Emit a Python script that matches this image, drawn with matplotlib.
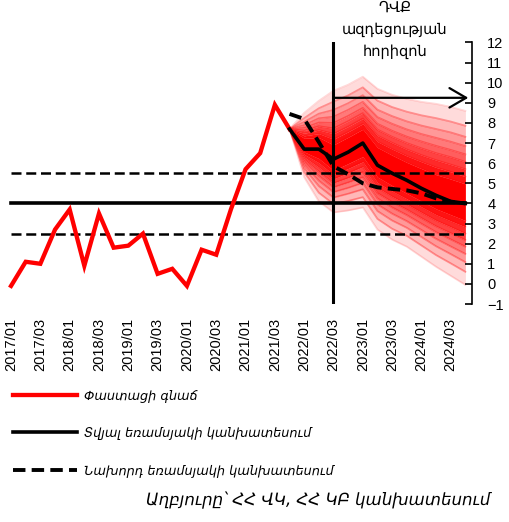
import matplotlib.pyplot as plt
import numpy as np

# quarters 2017Q1 .. 2024Q4
quarters = np.arange(32)
tick_pos = np.arange(0, 32, 2)
tick_labels = ['2017/01', '2017/03', '2018/01', '2018/03', '2019/01', '2019/03',
               '2020/01', '2020/03', '2021/01', '2021/03', '2022/01', '2022/03',
               '2023/01', '2023/03', '2024/01', '2024/03']

# actual inflation, 2017Q1 .. 2021Q4
actual = [-0.1, 1.1, 1.0, 2.7, 3.7, 0.9, 3.5, 1.8, 1.9, 2.5,
          0.5, 0.75, -0.1, 1.7, 1.45, 3.7, 5.7, 6.5, 8.9, 7.7]

# forecasts, 2021Q4 .. 2024Q4
fc_x = np.arange(19, 32)
forecast_now = [7.7, 6.7, 6.7, 6.2, 6.55, 7.0, 5.9, 5.5, 5.15, 4.75, 4.4, 4.1, 4.0]
forecast_prev = [8.45, 8.2, 7.05, 5.85, 5.45, 5.0, 4.8, 4.72, 4.65, 4.5, 4.25, 4.08, 4.0]

target = 4.0
target_lo = 2.5
target_hi = 5.5

# fan chart band edges (outer -> inner)
fan_upper = [
    [7.7, 8.5, 9.1, 9.6, 9.9, 10.3, 9.7, 9.4, 9.2, 9.05, 8.95, 8.8, 8.6],
    [7.7, 8.24, 8.73, 9.06, 9.37, 9.77, 9.11, 8.79, 8.56, 8.38, 8.24, 8.07, 7.86],
    [7.7, 8.05, 8.46, 8.65, 8.98, 9.38, 8.66, 8.34, 8.08, 7.87, 7.7, 7.53, 7.31],
    [7.7, 7.89, 8.23, 8.31, 8.65, 9.05, 8.29, 7.96, 7.68, 7.45, 7.26, 7.07, 6.85],
    [7.7, 7.75, 8.02, 8.0, 8.35, 8.75, 7.96, 7.61, 7.32, 7.08, 6.86, 6.66, 6.44],
    [7.7, 7.62, 7.84, 7.73, 8.09, 8.49, 7.67, 7.31, 7.0, 6.74, 6.5, 6.3, 6.07],
    [7.7, 7.49, 7.65, 7.46, 7.82, 8.22, 7.37, 7.01, 6.68, 6.4, 6.15, 5.93, 5.7],
    [7.7, 7.36, 7.47, 7.19, 7.56, 7.96, 7.07, 6.7, 6.36, 6.07, 5.79, 5.57, 5.33],
    [7.7, 7.24, 7.28, 6.91, 7.29, 7.69, 6.78, 6.4, 6.04, 5.73, 5.43, 5.21, 4.97],
]
fan_lower = [
    [7.7, 5.3, 4.1, 3.55, 3.65, 3.8, 2.7, 2.2, 1.85, 1.35, 0.85, 0.4, -0.05],
    [7.7, 5.56, 4.53, 3.97, 4.12, 4.31, 3.23, 2.74, 2.39, 1.91, 1.43, 1.02, 0.6],
    [7.7, 5.75, 4.86, 4.29, 4.48, 4.7, 3.62, 3.15, 2.79, 2.33, 1.87, 1.48, 1.08],
    [7.7, 5.91, 5.13, 4.56, 4.77, 5.02, 3.95, 3.49, 3.12, 2.68, 2.24, 1.86, 1.49],
    [7.7, 6.05, 5.37, 4.8, 5.04, 5.3, 4.25, 3.8, 3.42, 2.99, 2.57, 2.21, 1.85],
    [7.7, 6.18, 5.58, 5.01, 5.27, 5.56, 4.51, 4.07, 3.69, 3.27, 2.86, 2.52, 2.18],
    [7.7, 6.31, 5.8, 5.22, 5.51, 5.82, 4.78, 4.34, 3.96, 3.55, 3.15, 2.83, 2.5],
    [7.7, 6.44, 6.02, 5.43, 5.74, 6.07, 5.04, 4.61, 4.23, 3.83, 3.44, 3.13, 2.83],
    [7.7, 6.56, 6.23, 5.64, 5.98, 6.33, 5.31, 4.89, 4.5, 4.11, 3.73, 3.44, 3.15],
]

policy_q = 22  # 2022/03
arrow_y = 9.25

arm = 'DejaVu Sans'
num = 'Liberation Sans'

fig = plt.figure(figsize=(5.09, 5.22), dpi=100)
ax = fig.add_axes([0.0073, 0.4176, 0.92, 0.501])

# fan
shades = [0.14, 0.28, 0.40, 0.52, 0.63, 0.74, 0.84, 0.93]
for k, t in enumerate(shades):
    col = (1, 1 - t, 1 - t)
    ax.fill_between(fc_x, fan_upper[k + 1], fan_upper[k], color=col, lw=0, zorder=1)
    ax.fill_between(fc_x, fan_lower[k], fan_lower[k + 1], color=col, lw=0, zorder=1)
ax.fill_between(fc_x, fan_lower[-1], fan_upper[-1], color='#ff0000', lw=0, zorder=1)
for k in range(len(fan_upper)):
    a = 0.15 if k == 0 else 0.35
    ax.plot(fc_x, fan_upper[k], color='red', alpha=a, lw=1.3, zorder=1.5)
    ax.plot(fc_x, fan_lower[k], color='red', alpha=a, lw=1.3, zorder=1.5)

# target band
ax.plot([quarters[0], quarters[-1]], [target, target], color='black', lw=2.6, zorder=2)
for v in (target_lo, target_hi):
    ax.plot([quarters[0], quarters[-1]], [v, v], color='black', lw=1.8,
            linestyle=(0, (4, 1.9)), zorder=2)

ax.axvline(policy_q, color='black', lw=2.2, zorder=3)
ax.annotate('', xy=(31.2, arrow_y), xytext=(policy_q, arrow_y),
            arrowprops=dict(arrowstyle='->,head_length=1.2,head_width=0.7',
                            color='black', lw=1.6, shrinkA=0, shrinkB=0),
            zorder=3)

l1, = ax.plot(quarters[:len(actual)], actual, color='#ff0000', lw=3.1, zorder=4,
              solid_joinstyle='miter', label='Փաստացի գնաճ')
l2, = ax.plot(fc_x, forecast_now, color='black', lw=2.6, zorder=5,
              label='Տվյալ եռամսյակի կանխատեսում')
l3, = ax.plot(fc_x, forecast_prev, color='black', lw=2.8, zorder=5,
              linestyle=(0, (3.2, 1.6)), label='Նախորդ եռամսյակի կանխատեսում')

ax.set_xlim(-0.5, 31.45)
ax.set_ylim(-1, 12)
ax.set_yticks(np.arange(-1, 13))
ax.yaxis.tick_right()
ax.tick_params(axis='y', direction='in', length=5, width=1.2, pad=11, labelsize=10.5)
ax.set_xticks(tick_pos)
ax.set_xticklabels(tick_labels, rotation=90, fontsize=10.5, family=num)
ax.tick_params(axis='x', length=0, pad=10)
for lab in ax.get_yticklabels():
    lab.set_family(num)
for s in ('left', 'top', 'bottom'):
    ax.spines[s].set_visible(False)
ax.spines['right'].set_linewidth(1.2)

ax.text(26.2, 12.65, 'ԴՎՔ\nազդեցության\nհորիզոն', ha='center', va='center',
        fontsize=10.5, family=arm, linespacing=1.55, clip_on=False)

fig.legend(handles=[l1, l2, l3], loc='upper left', bbox_to_anchor=(0.025, 0.254),
           frameon=False, handlelength=5.0, handletextpad=0.5, labelspacing=1.9,
           borderpad=0, borderaxespad=0,
           prop={'family': arm, 'style': 'italic', 'size': 9.3})

fig.text(490 / 509, 1 - 500 / 522, 'Աղբյուրը՝ ՀՀ ՎԿ, ՀՀ ԿԲ կանխատեսում',
         ha='right', va='center', fontsize=12, family=arm, style='italic')

fig.savefig('out.png', dpi=100)
